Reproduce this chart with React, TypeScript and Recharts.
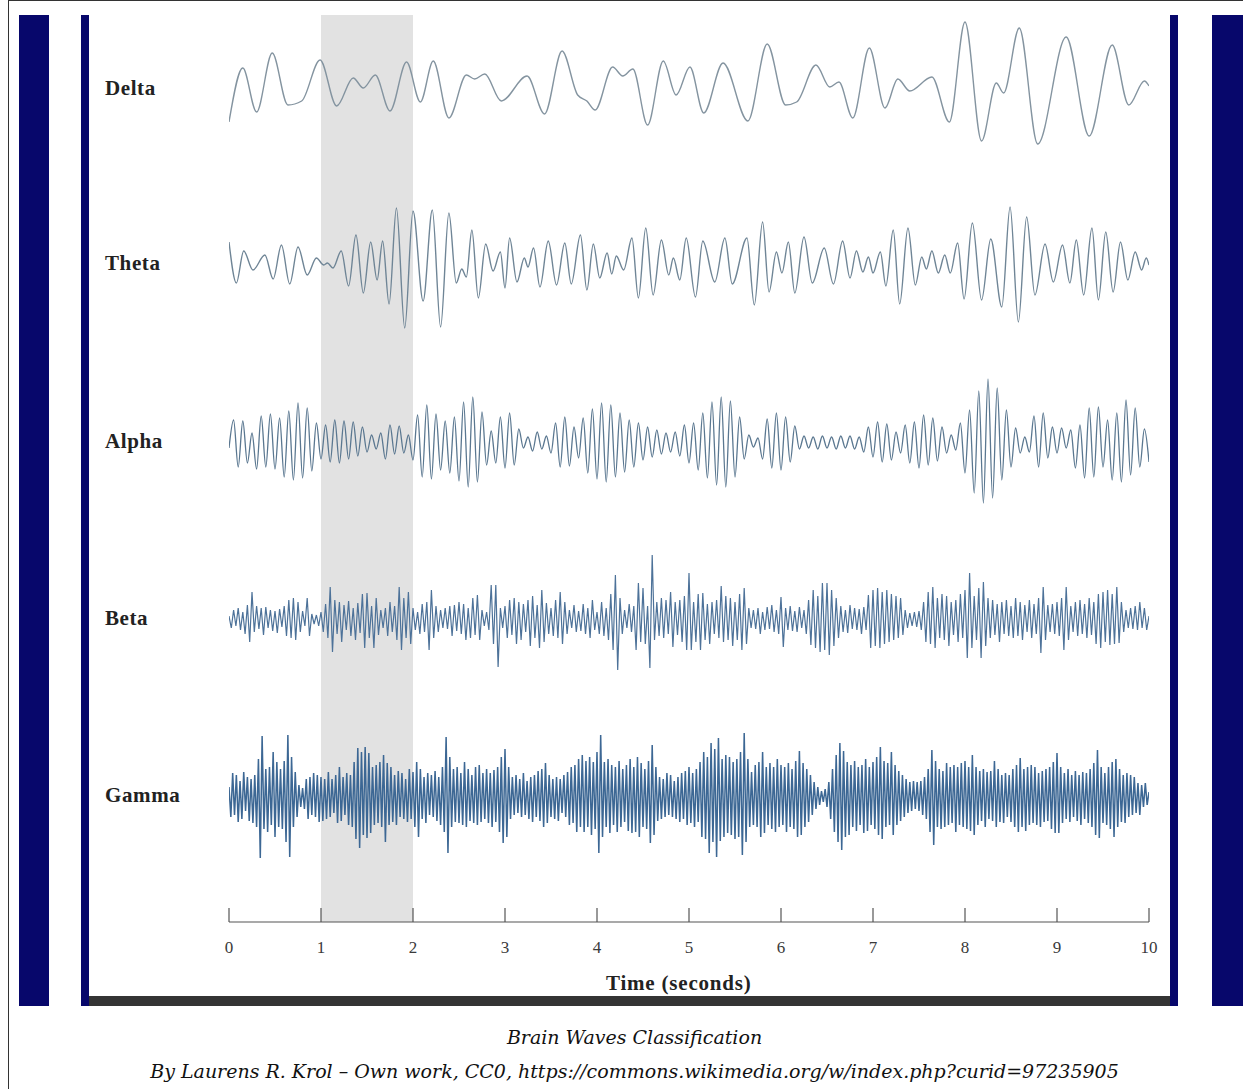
import { Line, LineChart, ReferenceArea, XAxis, YAxis } from "recharts";

// time axis (seconds)
const timeTicks = [0, 1, 2, 3, 4, 5, 6, 7, 8, 9, 10];
const bands = ["Delta", "Theta", "Alpha", "Beta", "Gamma"];

// delta & theta: [time, amplitude] at the turning points
const deltaWave: [number, number][] = [
  [0.0, -32], [0.15, 22], [0.3, -22], [0.47, 37], [0.64, -15], [0.79, -11], [0.99, 30],
  [1.17, -16], [1.35, 12], [1.46, 2], [1.59, 15], [1.75, -21], [1.93, 28], [2.08, -12],
  [2.22, 29], [2.39, -28], [2.58, 15], [2.67, 11], [2.78, 16], [2.96, -11], [3.24, 14],
  [3.43, -24], [3.62, 39], [3.79, -5], [3.89, -11], [3.98, -20], [4.17, 23], [4.28, 14],
  [4.39, 21], [4.55, -35], [4.72, 29], [4.86, -5], [5.01, 23], [5.16, -23], [5.37, 27],
  [5.64, -31], [5.85, 46], [6.05, -15], [6.17, -12], [6.38, 25], [6.53, 3], [6.63, 8],
  [6.78, -28], [6.96, 42], [7.13, -18], [7.27, 11], [7.4, -1], [7.64, 13], [7.83, -32],
  [8.0, 68], [8.18, -51], [8.34, 7], [8.42, -3], [8.59, 62], [8.79, -54], [9.1, 53],
  [9.35, -46], [9.6, 45], [9.78, -15], [9.95, 9], [10.0, 4],
];

const thetaWave: [number, number][] = [
  [0.0, 23], [0.08, -18], [0.16, 14], [0.26, -5], [0.39, 10], [0.48, -14], [0.57, 20],
  [0.66, -19], [0.75, 18], [0.85, -10], [0.95, 7], [1.03, 0], [1.07, 2], [1.13, -3],
  [1.22, 14], [1.3, -21], [1.38, 30], [1.46, -28], [1.54, 23], [1.61, -15], [1.67, 24],
  [1.74, -39], [1.82, 57], [1.91, -63], [2.0, 54], [2.11, -36], [2.21, 55], [2.3, -62],
  [2.39, 52], [2.47, -18], [2.53, -4], [2.58, -12], [2.64, 35], [2.71, -33], [2.79, 21],
  [2.87, -6], [2.95, 13], [3.0, -23], [3.05, 27], [3.13, -17], [3.21, 7], [3.25, -2],
  [3.31, 17], [3.38, -22], [3.47, 24], [3.56, -20], [3.65, 22], [3.72, -19], [3.82, 30],
  [3.89, -25], [3.96, 21], [4.03, -13], [4.11, 12], [4.16, -9], [4.21, 9], [4.29, -5],
  [4.38, 27], [4.45, -33], [4.53, 37], [4.61, -30], [4.7, 25], [4.78, -10], [4.83, 7],
  [4.9, -15], [4.97, 27], [5.07, -32], [5.15, 24], [5.28, -17], [5.39, 27], [5.47, -19],
  [5.63, 27], [5.71, -40], [5.8, 43], [5.87, -27], [5.95, 13], [6.01, -8], [6.08, 23],
  [6.15, -28], [6.25, 28], [6.34, -18], [6.47, 17], [6.57, -19], [6.67, 24], [6.75, -13],
  [6.82, 14], [6.89, -7], [6.95, 8], [7.0, -8], [7.08, 13], [7.14, -21], [7.22, 35],
  [7.29, -39], [7.38, 37], [7.46, -20], [7.53, 8], [7.58, -4], [7.64, 14], [7.71, -8],
  [7.78, 10], [7.84, -8], [7.92, 22], [7.99, -34], [8.08, 42], [8.18, -35], [8.28, 26],
  [8.4, -42], [8.49, 58], [8.58, -57], [8.67, 48], [8.76, -30], [8.87, 21], [8.96, -17],
  [9.06, 20], [9.14, -18], [9.21, 25], [9.29, -30], [9.38, 37], [9.45, -35], [9.53, 33],
  [9.61, -27], [9.69, 23], [9.77, -15], [9.85, 13], [9.92, -5], [9.97, 7], [10.0, 0],
];

// alpha, beta, gamma: evenly spaced samples over 0..10 s
const alphaWave = [
  -5, 23, -24, 22, -20, 10, -26, 27, -24, 29,
  -26, 25, -34, 32, -37, 40, -35, 35, -28, 20,
  -16, 18, -19, 23, -20, 22, -16, 21, -13, 16,
  -9, 8, -6, 10, -16, 18, -11, 17, -10, 8,
  -17, 28, -34, 38, -36, 29, -27, 22, -30, 26,
  -38, 41, -44, 46, -39, 31, -22, 12, -20, 26,
  -25, 30, -22, 14, -5, 6, -8, 11, -6, 7,
  -10, 20, -24, 26, -23, 16, -15, 25, -30, 34,
  -36, 40, -39, 38, -34, 30, -29, 23, -24, 20,
  -17, 16, -14, 13, -11, 10, -9, 11, -13, 18,
  -20, 20, -27, 30, -35, 41, -42, 46, -44, 42,
  -34, 26, -16, 8, -4, 5, -16, 24, -25, 30,
  -27, 26, -19, 17, -6, 7, -5, 6, -6, 7,
  -5, 6, -6, 7, -5, 7, -6, 6, -9, 16,
  -14, 21, -19, 19, -17, 11, -10, 18, -20, 21,
  -25, 28, -22, 25, -18, 16, -10, 8, -7, 20,
  -30, 33, -50, 52, -60, 64, -55, 55, -37, 33,
  -24, 15, -10, 6, -9, 27, -24, 30, -15, 16,
  -10, 15, -5, 13, -25, 18, -35, 35, -34, 36,
  -24, 23, -37, 30, -39, 43, -32, 35, -24, 14,
  -19,
];

const betaWave = [
  4, -8, 10, -6, 12, -10, 8, -14, 15, -22, 28, -12, 14, -9, 12, -15, 13, -8, 10, -11,
  9, -13, 11, -7, 14, -16, 20, -18, 22, -20, 18, -12, 9, -6, 22, -16, 6, -4, 5, -6,
  8, -12, 16, -18, 33, -32, 20, -14, 18, -22, 15, -10, 19, -16, 12, -20, 17, -13, 26, -28,
  27, -18, 14, -28, 22, -15, 10, -8, 12, -16, 18, -12, 14, -20, 33, -30, 22, -18, 28, -24,
  12, -10, 8, -14, 16, -12, 18, -30, 30, -18, 14, -12, 10, -8, 12, -9, 14, -16, 15, -11,
  18, -14, 16, -20, 12, -18, 22, -15, 25, -20, 10, -6, 8, -10, 35, -24, 35, -47, 12, -8,
  14, -18, 20, -15, 22, -24, 18, -20, 16, -12, 20, -26, 24, -18, 15, -28, 30, -22, 17, -14,
  12, -16, 20, -18, 28, -24, 18, -14, 10, -8, 15, -12, 9, -11, 16, -14, 12, -18, 20, -10,
  8, -14, 18, -16, 12, -20, 26, -30, 45, -50, 22, -14, 10, -8, 16, -12, 14, -30, 37, -22,
  32, -24, 14, -48, 65, -20, 18, -16, 22, -18, 20, -14, 28, -27, 18, -15, 20, -22, 24, -30,
  47, -30, 18, -22, 26, -30, 27, -20, 16, -24, 18, -14, 20, -18, 34, -22, 24, -20, 22, -26,
  18, -20, 26, -30, 32, -24, 12, -8, 10, -9, 12, -14, 8, -10, 13, -9, 15, -12, 10, -14,
  23, -27, 12, -10, 14, -11, 9, -12, 13, -8, 10, -14, 20, -25, 30, -28, 24, -32, 37, -30,
  37, -35, 30, -26, 22, -18, 14, -12, 10, -13, 15, -9, 12, -10, 11, -14, 13, -10, 25, -28,
  30, -26, 32, -28, 28, -24, 30, -22, 26, -20, 24, -18, 22, -15, 10, -8, 7, -6, 8, -7,
  9, -10, 18, -22, 28, -24, 33, -28, 22, -18, 26, -20, 24, -26, 18, -15, 20, -22, 26, -18,
  30, -38, 47, -28, 24, -20, 32, -38, 38, -26, 22, -18, 20, -15, 16, -22, 18, -14, 20, -16,
  14, -18, 22, -16, 18, -20, 15, -12, 20, -18, 16, -14, 22, -33, 33, -20, 15, -12, 16, -14,
  18, -16, 22, -30, 33, -20, 14, -12, 18, -16, 20, -14, 16, -18, 22, -15, 18, -24, 26, -28,
  28, -22, 30, -25, 26, -24, 33, -23, 18, -12, 10, -8, 12, -9, 14, -10, 18, -8, 12, -10,
  4,
];

const gammaWave = [
  10, -20, 24, -18, 22, -25, 16, -22, 25, -14, 20, -24, 18, -26, 22, -30, 38, -61, 61, -32, 28, -35, 30, -28, 45,
  -40, 35, -30, 28, -32, 36, -45, 62, -60, 40, -30, 25, -20, 12, -10, 9, -12, 18, -22, 20, -18, 24, -20, 22, -25,
  20, -24, 18, -22, 25, -20, 18, -16, 22, -26, 30, -24, 20, -18, 24, -28, 22, -30, 35, -42, 49, -51, 45, -38, 50,
  -41, 44, -36, 30, -28, 32, -26, 35, -30, 42, -45, 34, -28, 30, -25, 22, -28, 26, -20, 24, -22, 18, -25, 28, -22,
  25, -30, 35, -40, 28, -22, 20, -26, 24, -18, 22, -20, 26, -24, 20, -28, 30, -35, 60, -56, 40, -30, 28, -25, 30,
  -26, 24, -28, 35, -30, 28, -24, 22, -26, 30, -28, 32, -25, 24, -22, 28, -26, 24, -30, 27, -25, 30, -35, 40, -46,
  48, -40, 30, -22, 20, -18, 22, -16, 18, -20, 24, -18, 16, -22, 20, -25, 22, -20, 26, -24, 28, -30, 34, -26, 22,
  -20, 18, -22, 20, -24, 18, -16, 22, -20, 25, -28, 30, -26, 32, -35, 38, -30, 42, -35, 36, -30, 40, -38, 35, -32,
  45, -56, 62, -40, 35, -30, 38, -36, 32, -28, 30, -35, 36, -30, 28, -25, 32, -34, 38, -36, 30, -35, 40, -40, 34,
  -30, 28, -32, 36, -46, 52, -38, 30, -24, 20, -22, 18, -20, 24, -18, 22, -20, 16, -22, 20, -25, 24, -22, 26, -28,
  30, -26, 24, -30, 28, -25, 35, -40, 45, -42, 40, -56, 54, -45, 48, -60, 59, -44, 38, -40, 42, -36, 40, -38, 35,
  -42, 38, -40, 45, -58, 64, -45, 38, -30, 25, -28, 32, -30, 35, -40, 45, -36, 30, -28, 34, -32, 30, -35, 38, -30,
  32, -28, 30, -35, 34, -30, 28, -32, 36, -40, 46, -38, 34, -30, 28, -25, 22, -18, 15, -12, 10, -8, 6, -5, 8,
  -10, 15, -22, 28, -35, 42, -45, 54, -53, 46, -40, 35, -38, 32, -30, 36, -34, 30, -28, 32, -36, 38, -34, 30, -28,
  35, -32, 40, -38, 50, -42, 36, -30, 34, -28, 45, -38, 32, -28, 26, -24, 22, -20, 18, -16, 15, -14, 16, -12, 15,
  -14, 16, -18, 20, -22, 28, -35, 47, -48, 36, -30, 28, -32, 26, -30, 34, -28, 30, -26, 32, -35, 30, -28, 34, -30,
  36, -32, 30, -34, 42, -38, 30, -28, 26, -24, 28, -30, 25, -22, 26, -24, 36, -30, 28, -25, 22, -26, 24, -20, 22,
  -25, 28, -30, 32, -35, 39, -30, 28, -34, 30, -28, 32, -26, 30, -28, 24, -30, 26, -25, 28, -24, 30, -32, 35, -36,
  44, -36, 30, -26, 24, -22, 28, -25, 22, -20, 26, -24, 22, -28, 25, -22, 24, -26, 28, -30, 34, -38, 47, -41, 30,
  -26, 24, -28, 30, -32, 35, -40, 38, -30, 28, -25, 22, -26, 24, -20, 22, -18, 20, -16, 14, -18, 12, -10, 14, -8,
  5,
];

// vertical position of each trace (y axis runs 0 at top down to -907)
const rowOffset: Record<string, number> = {
  Delta: -75,
  Theta: -250,
  Alpha: -428,
  Beta: -605,
  Gamma: -782,
};

const fromPairs = (pts: [number, number][], off: number) =>
  pts.map(([t, v]) => ({ t, v: off + v }));

const fromSamples = (vals: number[], off: number) =>
  vals.map((v, i) => ({ t: (i * 10) / (vals.length - 1), v: off + v }));

const series = [
  { name: "Delta", data: fromPairs(deltaWave, rowOffset.Delta), color: "#8494a0", width: 1.4, type: "monotone" },
  { name: "Theta", data: fromPairs(thetaWave, rowOffset.Theta), color: "#6f8596", width: 1.4, type: "monotone" },
  { name: "Alpha", data: fromSamples(alphaWave, rowOffset.Alpha), color: "#5a7790", width: 1.3, type: "monotone" },
  { name: "Beta", data: fromSamples(betaWave, rowOffset.Beta), color: "#4d7299", width: 1.2, type: "linear" },
  { name: "Gamma", data: fromSamples(gammaWave, rowOffset.Gamma), color: "#3c6794", width: 1.5, type: "linear" },
] as const;

const serif = '"Liberation Serif", "Times New Roman", serif';
const navy = "#07076b";

function TimeTick(props: any) {
  const { x, y, payload } = props;
  return (
    <g>
      <line x1={x} x2={x} y1={y - 14} y2={y} stroke="#555" strokeWidth={1.2} />
      <text x={x} y={y + 31} textAnchor="middle" fontFamily={serif} fontSize={17} fill="#3a3a3a">
        {payload.value}
      </text>
    </g>
  );
}

function BandTick(props: any) {
  const { y, payload } = props;
  const name = bands.find((b) => rowOffset[b] === payload.value) ?? "";
  return (
    <text
      x={105}
      y={y + 5}
      fontFamily={serif}
      fontSize={21}
      fontWeight="bold"
      letterSpacing={0.6}
      fill="#222"
    >
      {name}
    </text>
  );
}

export default function App() {
  const box = (left: number, top: number, width: number, height: number, bg: string) => (
    <div style={{ position: "absolute", left, top, width, height, background: bg }} />
  );

  return (
    <div
      style={{
        position: "absolute",
        left: 0,
        top: 0,
        width: 1243,
        height: 1089,
        overflow: "hidden",
        background: "#fff",
      }}
    >
      <style>{"body{margin:0;overflow:hidden}"}</style>
      <div
        style={{
          position: "absolute",
          left: 8,
          top: 0,
          width: 1235,
          height: 1089,
          borderLeft: "1px solid #333",
          borderTop: "1px solid #333",
          boxSizing: "border-box",
        }}
      />
      {box(19, 15, 30, 991, navy)}
      {box(81, 15, 8, 991, navy)}
      {box(1170, 15, 8, 991, navy)}
      {box(1212, 15, 31, 991, navy)}
      {box(89, 996, 1081, 10, "#343434")}

      <div style={{ position: "absolute", left: 0, top: 0 }}>
        <LineChart width={1243} height={1089} margin={{ top: 15, right: 94, bottom: 87, left: 89 }}>
          <ReferenceArea x1={1} x2={2} fill="#e2e2e2" fillOpacity={1} stroke="none" ifOverflow="hidden" />
          <XAxis
            type="number"
            dataKey="t"
            domain={[0, 10]}
            ticks={timeTicks}
            allowDataOverflow
            height={80}
            tickSize={0}
            tickMargin={0}
            tick={<TimeTick />}
            axisLine={{ stroke: "#555", strokeWidth: 1.2 }}
            tickLine={false}
          />
          <YAxis
            type="number"
            domain={[-907, 0]}
            allowDataOverflow
            ticks={bands.map((b) => rowOffset[b])}
            width={140}
            tick={<BandTick />}
            axisLine={false}
            tickLine={false}
          />
          {series.map((s) => (
            <Line
              key={s.name}
              data={s.data}
              dataKey="v"
              type={s.type}
              stroke={s.color}
              strokeWidth={s.width}
              dot={false}
              activeDot={false}
              isAnimationActive={false}
            />
          ))}
        </LineChart>
      </div>

      <div
        style={{
          position: "absolute",
          left: 606,
          top: 971,
          fontFamily: serif,
          fontWeight: "bold",
          fontSize: 21,
          letterSpacing: 0.8,
          color: "#222",
        }}
      >
        Time (seconds)
      </div>

      <div
        style={{
          position: "absolute",
          left: 0,
          width: 1243,
          top: 1020,
          textAlign: "center",
          fontFamily: '"DejaVu Serif", serif',
          fontStyle: "italic",
          fontSize: 19,
          lineHeight: "34px",
          color: "#111",
          paddingLeft: 26,
          boxSizing: "border-box",
        }}
      >
        <div>Brain Waves Classification</div>
        <div>By Laurens R. Krol – Own work, CC0, https://commons.wikimedia.org/w/index.php?curid=97235905</div>
      </div>
    </div>
  );
}
